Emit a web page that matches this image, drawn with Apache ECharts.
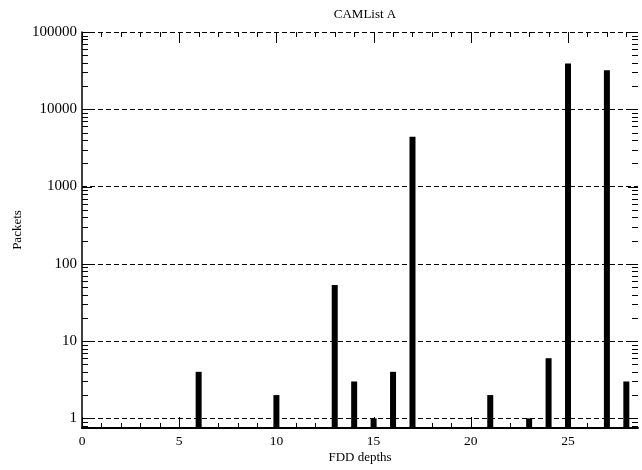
<!DOCTYPE html>
<html>
<head>
<meta charset="utf-8">
<script src="https://cdn.jsdelivr.net/npm/echarts@6/dist/echarts.min.js"></script>
<style>
  html, body { margin: 0; padding: 0; background: #fff; }
  #chart { width: 642px; height: 470px; }
</style>
</head>
<body>
<div id="chart"></div>
<script>
// Packets per FDD depth (log scale)
const depths  = [6, 10, 13, 14, 15, 16, 17, 21, 23, 24, 25, 27, 28];
const packets = [4, 2, 53, 3, 1, 4, 4400, 2, 1, 6, 39000, 32000, 3];

// Tick values for the framed axes
const xMajorTicks = [0, 5, 10, 15, 20, 25];
const xMinorTicks = [0, 1, 2, 3, 4, 5, 6, 7, 8, 9, 10, 11, 12, 13, 14, 15, 16, 17, 18, 19, 20, 21, 22, 23, 24, 25, 26, 27, 28];
const yDecades = [1, 10, 100, 1000, 10000, 100000];
const yMinorSteps = [2, 3, 4, 5, 6, 7, 8, 9];

const X_MIN = 0, X_MAX = 28.6;
const Y_MIN = 0.75, Y_MAX = 100000;
const BAR_WIDTH = 6;
const FONT = "'Liberation Serif', 'Times New Roman', serif";

const chart = echarts.init(document.getElementById('chart'), null, { renderer: 'canvas' });

// Bars rise from the bottom of the plot (below 1 on the log scale)
function renderBar(params, api) {
  const cs = params.coordSys;
  const bottom = cs.y + cs.height;
  const p = api.coord([api.value(0), api.value(1)]);
  return {
    type: 'rect',
    shape: { x: p[0] - BAR_WIDTH / 2, y: p[1], width: BAR_WIDTH, height: bottom - p[1] },
    style: { fill: '#000' }
  };
}

// Tick marks drawn inward on all four sides of the plot frame
function renderTicks(params, api) {
  const cs = params.coordSys;
  const left = cs.x, right = cs.x + cs.width, top = cs.y, bottom = cs.y + cs.height;
  const style = { stroke: '#000', lineWidth: 1 };
  const children = [];
  const hLine = (x, len) => {
    const px = Math.round(api.coord([x, Y_MAX])[0]) + 0.5;
    children.push({ type: 'line', shape: { x1: px, y1: bottom, x2: px, y2: bottom - len }, style });
    children.push({ type: 'line', shape: { x1: px, y1: top, x2: px, y2: top + len }, style });
  };
  const vLine = (y, len) => {
    const py = Math.round(api.coord([X_MIN, y])[1]) + 0.5;
    children.push({ type: 'line', shape: { x1: left, y1: py, x2: left + len, y2: py }, style });
    children.push({ type: 'line', shape: { x1: right, y1: py, x2: right - len, y2: py }, style });
  };
  xMinorTicks.forEach(v => { if (xMajorTicks.indexOf(v) < 0) hLine(v, 5); });
  xMajorTicks.forEach(v => hLine(v, 11));
  yDecades.forEach(d => {
    vLine(d, 10);
    yMinorSteps.forEach(k => { const v = d * k; if (v < Y_MAX) vLine(v, 6); });
  });
  // minor ticks below 1
  [0.8, 0.9].forEach(v => vLine(v, 6));
  return { type: 'group', children };
}

chart.setOption({
  animation: false,
  backgroundColor: '#fff',
  title: {
    text: 'CAMList A',
    left: 360,
    top: 3,
    textAlign: 'center',
    textStyle: { fontFamily: FONT, fontSize: 13, fontWeight: 'normal', color: '#000' }
  },
  grid: { left: 82, right: 4, top: 32, bottom: 42, containLabel: false },
  xAxis: {
    type: 'value',
    min: X_MIN,
    max: X_MAX,
    interval: 5,
    name: 'FDD depths',
    nameLocation: 'middle',
    nameGap: 23,
    nameMoveOverlap: false,
    nameTextStyle: { fontFamily: FONT, fontSize: 13, color: '#000', verticalAlign: 'top' },
    axisLine: { show: true, onZero: false, lineStyle: { color: '#000', width: 2 } },
    axisTick: { show: false },
    splitLine: { show: false },
    axisLabel: {
      fontFamily: FONT, fontSize: 13.5, color: '#000', margin: 6,
      showMaxLabel: false,
      formatter: v => (xMajorTicks.indexOf(v) >= 0 ? String(v) : '')
    }
  },
  yAxis: {
    type: 'log',
    logBase: 10,
    min: Y_MIN,
    max: Y_MAX,
    name: 'Packets',
    nameLocation: 'middle',
    nameGap: 58,
    nameMoveOverlap: false,
    nameTextStyle: { fontFamily: FONT, fontSize: 13, color: '#000' },
    axisLine: { show: true, lineStyle: { color: '#000', width: 1.5 } },
    axisTick: { show: false },
    splitLine: { show: true, lineStyle: { color: '#000', width: 1, type: [5, 3] } },
    axisLabel: {
      fontFamily: FONT, fontSize: 15, color: '#000', margin: 5,
      formatter: v => (yDecades.indexOf(Math.round(v)) >= 0 && Math.abs(v - Math.round(v)) < 1e-6 ? String(Math.round(v)) : '')
    }
  },
  series: [
    {
      type: 'custom',
      renderItem: renderBar,
      encode: { x: 0, y: 1 },
      data: depths.map((d, i) => [d, packets[i]]),
      clip: true,
      z: 3
    },
    {
      type: 'custom',
      renderItem: renderTicks,
      data: [[X_MIN, Y_MAX]],
      silent: true,
      clip: false,
      z: 4
    }
  ]
});
</script>
</body>
</html>
